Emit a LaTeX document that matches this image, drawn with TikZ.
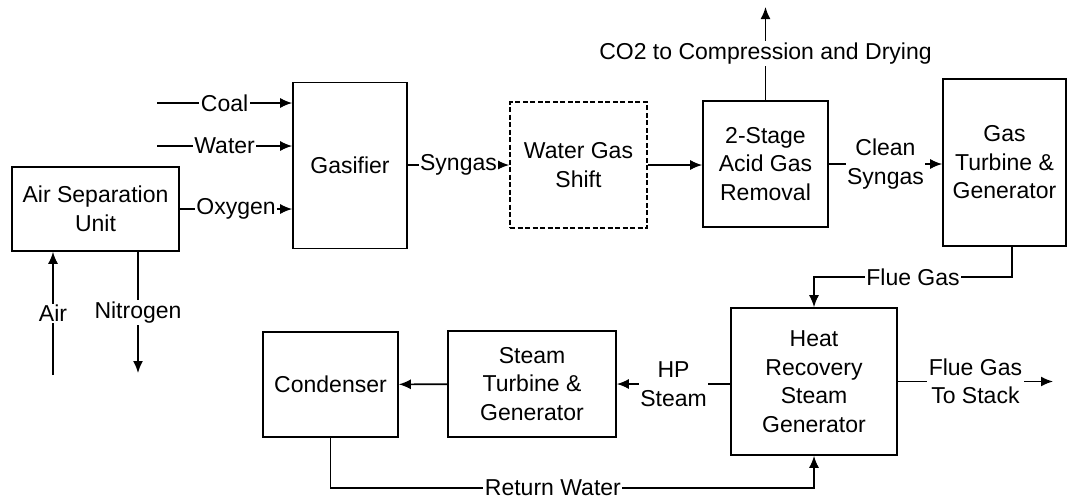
\documentclass[tikz,border=0pt]{standalone}
\usepackage{fontspec}
\setmainfont{Liberation Sans}
\usetikzlibrary{arrows.meta}

\begin{document}
\begin{tikzpicture}[x=1pt, y=-1pt, line width=1.6pt,
    font=\fontsize{23}{28.5}\selectfont,
    main/.style = {draw, rectangle, align=center, inner sep=2pt},
    lbl/.style = {fill=white, inner sep=1.5pt, align=center},
    arr/.style = {-{Latex[length=12pt, width=10pt]}}]
    \useasboundingbox (0,0) rectangle (1069,499);

    \node[main, minimum width=167pt, minimum height=84pt] (ASU) at (95.5,209) {Air Separation\\Unit};
    \node[main, minimum width=114pt, minimum height=166pt] (Gas) at (350,165.5) {Gasifier};
    \node[main, dash pattern=on 5pt off 2.5pt, minimum width=137pt, minimum height=126pt] (WGS) at (578.5,165) {Water Gas\\Shift};
    \node[main, minimum width=125pt, minimum height=126pt] (AGR) at (765.5,164) {2-Stage\\Acid Gas\\Removal};
    \node[main, minimum width=123pt, minimum height=167pt] (GT) at (1004.5,162.5) {Gas\\Turbine \&\\Generator};
    \node[main, minimum width=166pt, minimum height=147pt] (HRSG) at (814,381.5) {Heat\\Recovery\\Steam\\Generator};
    \node[main, minimum width=168pt, minimum height=106pt] (ST) at (532,384) {Steam\\Turbine \&\\Generator};
    \node[main, minimum width=135pt, minimum height=105pt] (Cond) at (330.5,384.5) {Condenser};

    \coordinate (CoalIn) at (157,103);
    \coordinate (WaterIn) at (157,146);
    \coordinate (AirIn) at (53,375);
    \coordinate (N2Out) at (138,373);
    \coordinate (CO2Out) at (765.5,7);
    \coordinate (StackOut) at (1053,381.5);
    \coordinate (FG) at (1012,277);
    \coordinate (RW) at (814,488);

    \draw[arr] (CoalIn) -- node[lbl] {Coal} (Gas.west |- CoalIn);
    \draw[arr] (WaterIn) -- node[lbl] {Water} (Gas.west |- WaterIn);
    \draw[arr] (ASU) -- node[lbl] {Oxygen} (Gas.west |- ASU);
    \draw[arr] (AirIn) -- node[lbl] {Air} (AirIn |- ASU.south);
    \draw[arr] (N2Out |- ASU.south) -- node[lbl] {Nitrogen} (N2Out);

    \draw[arr] (Gas.east |- WGS) -- node[lbl] {Syngas} (WGS.west);
    \draw[arr] (WGS) -- (AGR.west |- WGS);
    \draw[arr] (AGR.north) -- node[lbl] {CO2 to Compression and Drying} (CO2Out);
    \draw[arr] (AGR.east) -- node[lbl] {Clean\\Syngas} (GT.west |- AGR.east);

    \draw[arr] (GT.south -| FG) |- node[lbl, pos=0.75] {Flue Gas} (HRSG.north |- FG) -- (HRSG.north);
    \draw[arr] (HRSG.east) -- node[lbl] {Flue Gas\\To Stack} (StackOut);
    \draw[arr] (HRSG.west |- ST) -- node[lbl] {HP\\Steam} (ST.east);
    \draw[arr] (ST) -- (Cond);
    \draw[arr] (Cond.south) |- node[lbl, pos=0.73] {Return Water} (RW) -- (HRSG.south);
\end{tikzpicture}
\end{document}
